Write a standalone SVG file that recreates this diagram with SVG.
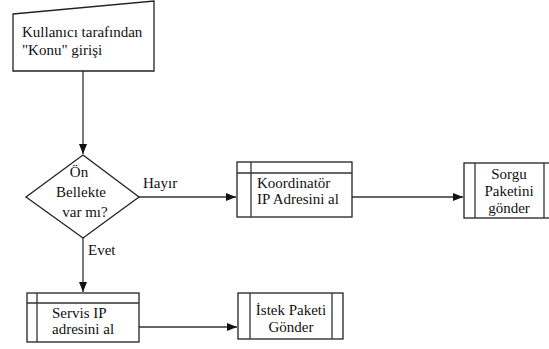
<svg xmlns="http://www.w3.org/2000/svg" width="549" height="349" viewBox="0 0 549 349" font-family="'Liberation Serif', 'DejaVu Serif', serif" font-size="15">
  <style>
    .shape { fill: #ffffff; stroke: #222222; stroke-width: 1.3; }
    .edge { fill: none; stroke: #333333; stroke-width: 1.3; }
    text { fill: #111111; }
    .c { text-anchor: middle; }
  </style>
  <defs>
    <marker id="arrow" viewBox="0 0 10 10" refX="10" refY="5" markerWidth="10" markerHeight="10" markerUnits="userSpaceOnUse" orient="auto">
      <path d="M0,1 L10,5 L0,9 Z" fill="#111111"/>
    </marker>
  </defs>

  <g id="connectors">
    <path class="edge" d="M83,71 V154" marker-end="url(#arrow)"/>
    <path class="edge" d="M139,197 H236" marker-end="url(#arrow)"/>
    <path class="edge" d="M352,197 H463" marker-end="url(#arrow)"/>
    <path class="edge" d="M83,237 V292" marker-end="url(#arrow)"/>
    <path class="edge" d="M139,327 H237" marker-end="url(#arrow)"/>
    <text x="143" y="188">Hayır</text>
    <text x="88" y="255">Evet</text>
  </g>

  <g id="input">
    <path class="shape" d="M13,14 L154,1 V71 H13 Z"/>
    <text x="22" y="37">Kullanıcı tarafından</text>
    <text x="22" y="55">"Konu" girişi</text>
  </g>

  <g id="decision">
    <path class="shape" d="M83,155 L139,197 L83,238 L26,197 Z"/>
    <text class="c" x="79" y="177">Ön</text>
    <text class="c" x="81" y="197">Bellekte</text>
    <text class="c" x="85" y="217">var mı?</text>
  </g>

  <g id="koordinator">
    <rect class="shape" x="237" y="162" width="115" height="55"/>
    <path class="edge" d="M251,162 V217 M237,173 H352"/>
    <text x="257" y="188">Koordinatör</text>
    <text x="257" y="204">IP Adresini al</text>
  </g>

  <g id="sorgu">
    <rect class="shape" x="464" y="163" width="91" height="55"/>
    <path class="edge" d="M475,163 V218 M544,163 V218"/>
    <text class="c" x="509" y="179">Sorgu</text>
    <text class="c" x="509" y="196">Paketini</text>
    <text class="c" x="509" y="213">gönder</text>
  </g>

  <g id="servis">
    <rect class="shape" x="27" y="293" width="112" height="49"/>
    <path class="edge" d="M37,293 V342 M27,303 H139"/>
    <text x="52" y="318">Servis IP</text>
    <text x="52" y="334">adresini al</text>
  </g>

  <g id="istek">
    <rect class="shape" x="238" y="293" width="105" height="46"/>
    <path class="edge" d="M250,293 V339 M332,293 V339"/>
    <text class="c" x="291" y="315">İstek Paketi</text>
    <text class="c" x="291" y="332">Gönder</text>
  </g>
</svg>
